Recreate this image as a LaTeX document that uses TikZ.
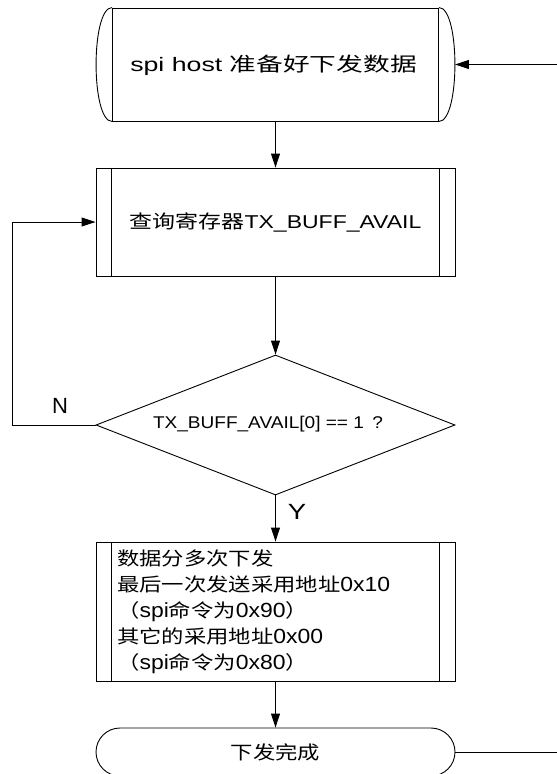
\documentclass[tikz,border=0pt]{standalone}
\usepackage{graphicx}
\usepackage{fontspec}
\setmainfont{Liberation Sans}
\newfontfamily\cjk{Noto Sans CJK SC}
\newcommand\zh[1]{{\cjk #1}}
\newcommand\sx[2]{\scalebox{#1}[1]{#2}}
\newcommand\zc[1]{\scalebox{1.2}[1]{\cjk #1}}
\newcommand\la[1]{{\fontsize{20.5}{26}\selectfont\scalebox{1.12}[1]{#1}}}
\usetikzlibrary{arrows.meta,shapes.geometric}
\begin{document}
\begin{tikzpicture}[x=1pt,y=-1pt,
  line/.style={draw=black,line width=0.9pt},
  arr/.style={line,-{Triangle[length=14pt,width=9pt]}},
  box/.style={line,rectangle,minimum width=359pt,inner sep=0pt},
  txt/.style={inner sep=0pt,font=\fontsize{18.6}{26}\selectfont},
  lbl/.style={inner sep=0pt,font=\fontsize{22}{26}\selectfont}
]
\useasboundingbox (0,0) rectangle (557,774);

% start terminator
\node[line,rectangle,minimum width=326pt,minimum height=113pt,inner sep=0pt] (start) at (275.5,64.5) {};
\draw[line] (start.north west) .. controls +(-21.3,0) and +(-21.3,0) .. (start.south west);
\draw[line] (start.north east) .. controls +(21.3,0) and +(21.3,0) .. (start.south east);
\node[inner sep=0pt,font=\fontsize{19.5}{24}\selectfont] (starttxt) at (273.5,65) {\sx{1.37}{spi host \zh{准备好下发数据}}};
\coordinate (starttip) at ([xshift=16pt]start.east);

% query box
\node[box,minimum height=108pt,txt] (query) at (275.5,222) {\sx{1.236}{\zh{查询寄存器}TX\_BUFF\_AVAIL}};
\draw[line] ([xshift=16pt]query.north west) -- ([xshift=16pt]query.south west);
\draw[line] ([xshift=-16pt]query.north east) -- ([xshift=-16pt]query.south east);

% decision
\node[line,diamond,minimum width=359pt,minimum height=140pt,inner sep=0pt] (check) at (275.5,425) {};
\node[inner sep=0pt,font=\fontsize{17}{20}\selectfont] (checktxt) at (268,424) {\sx{1.12}{TX\_BUFF\_AVAIL[0] == 1 \,?}};

% send box
\node[box,minimum height=139pt] (send) at (275.5,611.5) {};
\draw[line] ([xshift=16pt]send.north west) -- ([xshift=16pt]send.south west);
\draw[line] ([xshift=-16pt]send.north east) -- ([xshift=-16pt]send.south east);
\node[txt,anchor=west,align=left] (sendtxt) at (117,611.5) {%
\zc{数据分多次下发}\\
\zc{最后一次发送采用地址}\la{0x10}\\
\zc{（}\la{spi}\zc{命令为}\la{0x90}\zc{）}\\
\zc{其它的采用地址}\la{0x00}\\
\zc{（}\la{spi}\zc{命令为}\la{0x80}\zc{）}};

% end terminator
\node[box,rounded corners=24pt,minimum height=48pt,txt] (done) at (275.5,752) {\zc{下发完成}};

% connectors
\draw[arr] (start.south) -- (query.north);
\draw[arr] (query.south) -- (check.north);
\draw[arr] (check.south) -- (send.north);
\draw[arr] (send.south) -- (done.north);
\draw[arr] (check.west) -- ++(-83,0) |- (query.west);
\draw[arr] (done.east) -- ++(106,0) |- (starttip);

% labels
\node[lbl] (nlabel) at (60,406) {N};
\node[lbl] (ylabel) at (297,512) {\sx{1.25}{Y}};
\end{tikzpicture}
\end{document}
